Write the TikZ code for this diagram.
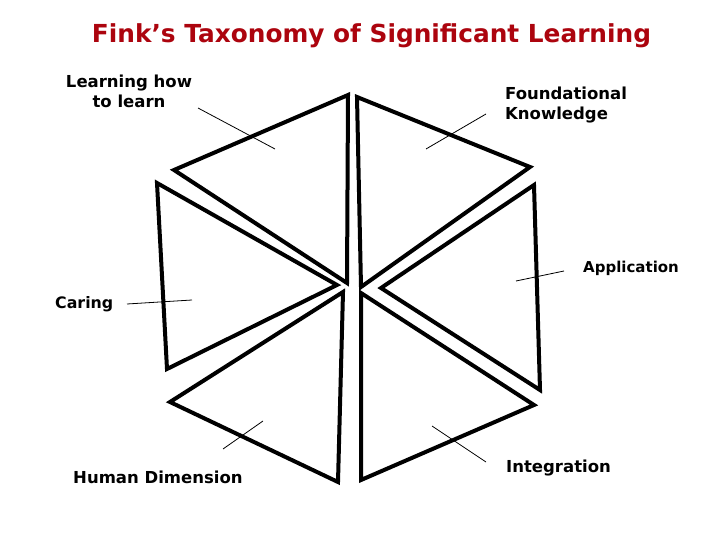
\documentclass[tikz,border=0pt]{standalone}
\usepackage{fontspec}
\setmainfont{DejaVu Sans}
\definecolor{titlered}{RGB}{172,4,14}
\begin{document}
\begin{tikzpicture}[x=1pt,y=-1pt,
  tri/.style={draw=black,line width=4pt,line join=miter,miter limit=20},
  leader/.style={draw=black,line width=0.8pt},
  lbl/.style={inner sep=0pt,font=\bfseries\fontsize{16.5}{20}\selectfont}]
\useasboundingbox (0,0) rectangle (720,540);
\fill[white] (0,0) rectangle (720,540);
% title
\node[inner sep=0pt,anchor=base,text=titlered,font=\bfseries\fontsize{24.8}{28}\selectfont] (title) at (371.5,42.7) {Fink’s Taxonomy of Significant Learning};
% triangles
\draw[tri] (348,95) -- (174,170) -- (347,283) -- cycle;
\draw[tri] (357,97) -- (530,167) -- (361,287) -- cycle;
\draw[tri] (534,185) -- (381,288) -- (540,390) -- cycle;
\draw[tri] (361,293) -- (534,405) -- (361,480) -- cycle;
\draw[tri] (343,292) -- (170,402) -- (338,482) -- cycle;
\draw[tri] (157,183) -- (337,285) -- (167,369) -- cycle;
% leader line end points
\coordinate (l1a) at (198,108); \coordinate (l1b) at (275,149);
\coordinate (l2a) at (426,149); \coordinate (l2b) at (486,114);
\coordinate (l3a) at (516,281); \coordinate (l3b) at (564,271);
\coordinate (l4a) at (127,304); \coordinate (l4b) at (192,300);
\coordinate (l5a) at (223,449); \coordinate (l5b) at (263,421);
\coordinate (l6a) at (432,426); \coordinate (l6b) at (486,462);
\draw[leader] (l1a) -- (l1b);
\draw[leader] (l2a) -- (l2b);
\draw[leader] (l3a) -- (l3b);
\draw[leader] (l4a) -- (l4b);
\draw[leader] (l5a) -- (l5b);
\draw[leader] (l6a) -- (l6b);
% labels
\node[lbl,anchor=base,align=center] (learn) at (129,107.5) {Learning how\\to learn};
\node[lbl,anchor=base west,align=left] (found) at (505,120) {Foundational\\Knowledge};
\node[lbl,anchor=base west,font=\bfseries\fontsize{15}{18}\selectfont] (appl) at (583,272.5) {Application};
\node[lbl,anchor=base west,font=\bfseries\fontsize{15.8}{18}\selectfont] (caring) at (55,308) {Caring};
\node[lbl,anchor=base west] (human) at (73,483) {Human Dimension};
\node[lbl,anchor=base west] (integ) at (506,472) {Integration};
\end{tikzpicture}
\end{document}
